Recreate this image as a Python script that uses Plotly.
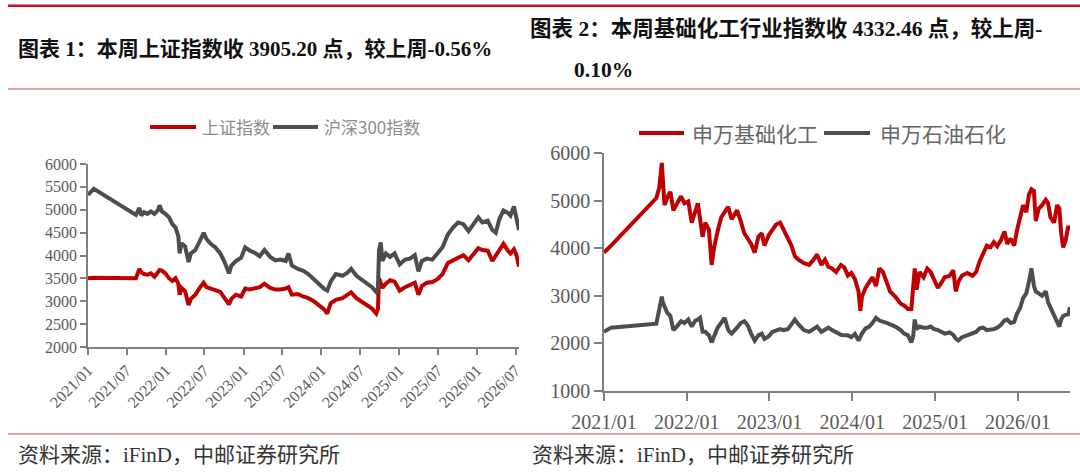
import plotly.graph_objects as go

# ---------------- Left chart data (上证指数 / 沪深300指数) ----------------
L_DATES = [
    "2021-01-01", "2021-01-28", "2021-08-14", "2021-08-22", "2021-08-30", "2021-09-08", "2021-09-21", "2021-10-07", "2021-10-23", "2021-11-09",
    "2021-11-25", "2021-12-03", "2021-12-14", "2021-12-30", "2022-01-16", "2022-02-01", "2022-02-16", "2022-03-01", "2022-03-07", "2022-03-16",
    "2022-04-02", "2022-04-18", "2022-04-29", "2022-05-20", "2022-06-09", "2022-06-28", "2022-07-11", "2022-07-31", "2022-08-21", "2022-09-14",
    "2022-10-04", "2022-10-25", "2022-11-05", "2022-11-26", "2022-12-21", "2023-01-09", "2023-01-31", "2023-02-22", "2023-03-18", "2023-04-09",
    "2023-05-06", "2023-05-31", "2023-06-24", "2023-07-18", "2023-07-31", "2023-08-16", "2023-09-13", "2023-10-07", "2023-11-01", "2023-11-25",
    "2023-12-19", "2024-01-13", "2024-01-29", "2024-02-14", "2024-03-09", "2024-04-10", "2024-05-04", "2024-05-20", "2024-06-14", "2024-07-08",
    "2024-08-02", "2024-08-26", "2024-09-15", "2024-09-23", "2024-09-28", "2024-10-06", "2024-10-14", "2024-10-30", "2024-11-19", "2024-12-10",
    "2025-01-03", "2025-01-28", "2025-02-20", "2025-03-15", "2025-04-01", "2025-04-17", "2025-05-11", "2025-06-05", "2025-06-29", "2025-07-23",
    "2025-08-17", "2025-09-10", "2025-10-04", "2025-10-29", "2025-11-22", "2025-12-16", "2026-01-07", "2026-01-26", "2026-02-20", "2026-03-14",
    "2026-03-30", "2026-04-16", "2026-05-05", "2026-05-26", "2026-06-07", "2026-06-23", "2026-07-05", "2026-07-17",
]
SH_INDEX = [
    3504, 3511, 3504, 3594, 3707, 3632, 3594, 3579, 3609, 3534,
    3632, 3684, 3669, 3609, 3504, 3444, 3504, 3383, 3143, 3293,
    3218, 2917, 3053, 3143, 3293, 3406, 3308, 3278, 3256, 3203,
    3068, 2932, 3053, 3143, 3105, 3278, 3256, 3278, 3308, 3383,
    3293, 3256, 3256, 3278, 3308, 3143, 3158, 3105, 3068, 3008,
    2932, 2827, 2729, 2955, 3030, 3068, 3143, 3195, 3068, 2992,
    2917, 2842, 2729, 2827, 3504, 3353, 3293, 3383, 3459, 3429,
    3233, 3308, 3353, 3406, 3143, 3331, 3406, 3421, 3481, 3594,
    3835, 3895, 3932, 4008, 3895, 4045, 4158, 4120, 4105, 3880,
    4008, 4120, 4256, 4105, 4045, 4135, 4008, 3759,
]
HS300_INDEX = [
    5323, 5459, 4887, 4985, 5038, 4872, 4947, 4910, 4962, 4910,
    4985, 5098, 4962, 4910, 4835, 4684, 4609, 4421, 4045, 4271,
    4195, 3857, 4045, 4120, 4308, 4496, 4361, 4256, 4180, 4045,
    3857, 3609, 3782, 3880, 3955, 4180, 4105, 4060, 3985, 4120,
    3970, 3895, 3910, 3880, 4045, 3782, 3707, 3669, 3594, 3481,
    3368, 3278, 3233, 3429, 3594, 3556, 3632, 3707, 3556, 3481,
    3406, 3308, 3203, 3293, 4120, 4286, 3880, 4045, 3970, 4045,
    3805, 3910, 3932, 4008, 3654, 3880, 3932, 3910, 4045, 4180,
    4459, 4609, 4722, 4684, 4534, 4684, 4835, 4722, 4759, 4556,
    4496, 4797, 4985, 4932, 4872, 5075, 4857, 4556,
]
L_TICKVALS = ["2021-01-01", "2021-07-01", "2022-01-01", "2022-07-01", "2023-01-01", "2023-07-01",
              "2024-01-01", "2024-07-01", "2025-01-01", "2025-07-01", "2026-01-01", "2026-07-01"]
L_TICKTEXT = ["2021/01", "2021/07", "2022/01", "2022/07", "2023/01", "2023/07",
              "2024/01", "2024/07", "2025/01", "2025/07", "2026/01", "2026/07"]

# ---------------- Right chart data (申万基础化工 / 申万石油石化) ----------------
R_DATES = [
    "2021-01-01", "2021-02-01", "2021-08-20", "2021-09-02", "2021-09-13", "2021-09-17", "2021-09-25", "2021-10-06", "2021-10-21", "2021-11-03",
    "2021-11-18", "2021-12-07", "2021-12-22", "2022-01-08", "2022-01-23", "2022-02-08", "2022-02-19", "2022-03-01", "2022-03-12", "2022-03-24",
    "2022-04-09", "2022-04-21", "2022-05-02", "2022-05-17", "2022-06-02", "2022-06-17", "2022-07-03", "2022-07-18", "2022-08-11", "2022-08-27",
    "2022-09-12", "2022-09-27", "2022-10-12", "2022-10-28", "2022-11-13", "2022-11-28", "2022-12-10", "2022-12-29", "2023-01-14", "2023-01-30",
    "2023-02-17", "2023-03-03", "2023-03-23", "2023-04-08", "2023-04-23", "2023-05-09", "2023-06-02", "2023-06-25", "2023-07-15", "2023-07-30",
    "2023-08-18", "2023-09-03", "2023-09-18", "2023-10-04", "2023-10-22", "2023-11-12", "2023-11-27", "2023-12-13", "2023-12-28", "2024-01-13",
    "2024-01-29", "2024-02-06", "2024-02-13", "2024-02-29", "2024-03-15", "2024-03-30", "2024-04-15", "2024-04-30", "2024-05-16", "2024-06-01",
    "2024-06-16", "2024-07-09", "2024-08-02", "2024-08-17", "2024-09-03", "2024-09-18", "2024-09-26", "2024-10-03", "2024-10-11", "2024-10-24",
    "2024-11-11", "2024-11-27", "2024-12-12", "2024-12-28", "2025-01-13", "2025-01-28", "2025-02-12", "2025-03-06", "2025-03-22", "2025-04-02",
    "2025-04-14", "2025-04-30", "2025-05-23", "2025-06-15", "2025-07-01", "2025-07-16", "2025-08-01", "2025-08-17", "2025-09-02", "2025-09-17",
    "2025-10-02", "2025-10-18", "2025-11-03", "2025-11-15", "2025-11-30", "2025-12-16", "2025-12-27", "2026-01-12", "2026-01-24", "2026-02-07",
    "2026-02-19", "2026-03-02", "2026-03-13", "2026-03-21", "2026-04-03", "2026-04-18", "2026-05-04", "2026-05-14", "2026-05-25", "2026-06-10",
    "2026-06-23", "2026-07-03", "2026-07-11", "2026-07-20", "2026-07-31", "2026-08-11", "2026-08-19",
]
SW_CHEM = [
    3907, 4055, 5053, 5275, 5793, 5349, 4905, 5053, 5186, 4794,
    4942, 5090, 4942, 4980, 4536, 4757, 4942, 4610, 4240, 4536,
    4388, 3648, 4018, 4351, 4646, 4757, 4868, 4610, 4794, 4573,
    4314, 4203, 4092, 3907, 4240, 4314, 4055, 4277, 4388, 4498,
    4536, 4388, 4203, 4055, 3833, 3759, 3685, 3648, 3759, 3870,
    3648, 3759, 3611, 3574, 3500, 3648, 3600, 3426, 3480, 3352,
    3093, 2686, 2982, 3167, 3278, 3389, 3204, 3574, 3500, 3278,
    3093, 2982, 2834, 2797, 2723, 2723, 3352, 3574, 3130, 3500,
    3389, 3574, 3500, 3352, 3167, 3270, 3389, 3420, 3537, 3093,
    3300, 3426, 3480, 3420, 3500, 3722, 3870, 4055, 4020, 4129,
    4040, 4166, 4351, 4092, 4203, 4055, 4351, 4683, 4905, 4757,
    5127, 5238, 5200, 4573, 4831, 4905, 5016, 4950, 4646, 4536,
    4905, 4831, 4314, 4018, 4166, 4462, 4388,
]
SW_PETRO = [
    2243, 2331, 2413, 2686, 2982, 2870, 2760, 2649, 2575, 2280,
    2354, 2464, 2428, 2501, 2354, 2480, 2501, 2538, 2243, 2243,
    2170, 2021, 2150, 2330, 2430, 2538, 2280, 2206, 2330, 2428,
    2464, 2380, 2206, 2058, 2169, 2206, 2095, 2150, 2243, 2280,
    2300, 2280, 2300, 2400, 2501, 2400, 2280, 2243, 2300, 2354,
    2243, 2300, 2330, 2280, 2230, 2180, 2169, 2169, 2132, 2200,
    2058, 2150, 2206, 2317, 2350, 2428, 2538, 2480, 2464, 2430,
    2400, 2354, 2280, 2206, 2170, 2021, 2150, 2501, 2300, 2354,
    2330, 2330, 2354, 2300, 2280, 2240, 2206, 2230, 2180, 2100,
    2060, 2132, 2170, 2206, 2240, 2317, 2330, 2280, 2280, 2300,
    2330, 2391, 2480, 2501, 2428, 2450, 2612, 2760, 2950, 3050,
    3300, 3574, 3204, 3093, 3050, 3000, 3093, 2871, 2750, 2600,
    2450, 2354, 2501, 2575, 2600, 2612, 2760,
]
R_TICKVALS = ["2021-01-01", "2022-01-01", "2023-01-01", "2024-01-01", "2025-01-01", "2026-01-01"]
R_TICKTEXT = ["2021/01", "2022/01", "2023/01", "2024/01", "2025/01", "2026/01"]

L_NAMES = ["上证指数", "沪深300指数"]
R_NAMES = ["申万基础化工", "申万石油石化"]
TITLE_1 = "图表 1：本周上证指数收 3905.20 点，较上周-0.56%"
TITLE_2A = "图表 2：本周基础化工行业指数收 4332.46 点，较上周-"
TITLE_2B = "0.10%"
SOURCE = "资料来源：iFinD，中邮证券研究所"

# ---------------- styling ----------------
W, H = 1080, 473
RED = "#C00000"
GRAY = "#4D4D4D"
AXIS = "#7F7F7F"
TICK = "#595959"
SERIF = "Liberation Serif, Noto Sans CJK SC"
CJK = "Noto Sans CJK SC"
LW = 4


def px(xp):
    return xp / W


def py(yp):
    return 1 - yp / H


fig = go.Figure()
fig.add_trace(go.Scatter(x=L_DATES, y=SH_INDEX, name=L_NAMES[0], mode="lines",
                         line=dict(color=RED, width=LW), xaxis="x", yaxis="y", showlegend=False))
fig.add_trace(go.Scatter(x=L_DATES, y=HS300_INDEX, name=L_NAMES[1], mode="lines",
                         line=dict(color=GRAY, width=LW), xaxis="x", yaxis="y", showlegend=False))
fig.add_trace(go.Scatter(x=R_DATES, y=SW_CHEM, name=R_NAMES[0], mode="lines",
                         line=dict(color=RED, width=LW), xaxis="x2", yaxis="y2", showlegend=False))
fig.add_trace(go.Scatter(x=R_DATES, y=SW_PETRO, name=R_NAMES[1], mode="lines",
                         line=dict(color=GRAY, width=LW), xaxis="x2", yaxis="y2", showlegend=False))

common_axis = dict(showline=True, linecolor=AXIS, linewidth=1.5, ticks="outside",
                   tickcolor=AXIS, tickwidth=1.5, showgrid=False, zeroline=False,
                   automargin=False)

fig.update_layout(
    width=W, height=H,
    autosize=False,
    margin=dict(l=0, r=0, t=0, b=0, pad=0, autoexpand=False),
    paper_bgcolor="white", plot_bgcolor="white",
    showlegend=False,
    xaxis=dict(domain=[px(88), px(519)], range=["2021-01-01", "2026-07-17"], type="date",
               tickvals=L_TICKVALS, ticktext=L_TICKTEXT, tickangle=-45, ticklen=6,
               tickfont=dict(family=SERIF, size=16, color=TICK), anchor="y", **common_axis),
    yaxis=dict(domain=[py(347), py(164)], range=[2000, 6000], dtick=500, ticklen=6,
               tickfont=dict(family=SERIF, size=16, color=TICK), anchor="x", **common_axis),
    xaxis2=dict(domain=[px(604), px(1070)], range=["2021-01-01", "2026-08-19"], type="date",
                tickvals=R_TICKVALS, ticktext=R_TICKTEXT, tickangle=0, ticklen=8,
                ticklabelstandoff=4,
                tickfont=dict(family=SERIF, size=20, color=TICK), anchor="y2", **common_axis),
    yaxis2=dict(domain=[py(391), py(153)], range=[1000, 6000], dtick=1000, ticklen=8,
                tickfont=dict(family=SERIF, size=20, color=TICK), anchor="x2", **common_axis),
)

shapes = [
    dict(type="line", xref="paper", yref="paper", x0=px(8), x1=1, y0=py(5.7), y1=py(5.7),
         line=dict(color="#C8102E", width=2.5)),
    dict(type="line", xref="paper", yref="paper", x0=px(8), x1=1, y0=py(89), y1=py(89),
         line=dict(color="#E08A8A", width=1.5)),
    dict(type="line", xref="paper", yref="paper", x0=px(8), x1=1, y0=py(434), y1=py(434),
         line=dict(color="#E08A8A", width=1.5)),
    # legend keys
    dict(type="line", xref="paper", yref="paper", x0=px(150), x1=px(196), y0=py(127), y1=py(127),
         line=dict(color=RED, width=4)),
    dict(type="line", xref="paper", yref="paper", x0=px(273), x1=px(318), y0=py(127), y1=py(127),
         line=dict(color=GRAY, width=4)),
    dict(type="line", xref="paper", yref="paper", x0=px(639), x1=px(684), y0=py(133), y1=py(133),
         line=dict(color=RED, width=4)),
    dict(type="line", xref="paper", yref="paper", x0=px(824), x1=px(870), y0=py(133), y1=py(133),
         line=dict(color=GRAY, width=4)),
]

ann = [
    dict(text="<b>" + TITLE_1 + "</b>", x=px(16), y=py(49), font=dict(family=SERIF, size=21, color="#111")),
    dict(text="<b>" + TITLE_2A + "</b>", x=px(528), y=py(29), font=dict(family=SERIF, size=21.5, color="#111")),
    dict(text="<b>" + TITLE_2B + "</b>", x=px(572), y=py(70), font=dict(family=SERIF, size=21.5, color="#111")),
    dict(text=L_NAMES[0], x=px(200), y=py(127), font=dict(family=CJK, size=17, color="#8C8C8C")),
    dict(text=L_NAMES[1], x=px(322), y=py(127), font=dict(family=CJK, size=17, color="#8C8C8C")),
    dict(text=R_NAMES[0], x=px(690), y=py(133), font=dict(family=CJK, size=21, color="#666666")),
    dict(text=R_NAMES[1], x=px(878), y=py(133), font=dict(family=CJK, size=21, color="#666666")),
    dict(text=SOURCE, x=px(16), y=py(455), font=dict(family=SERIF, size=21, color="#333333")),
    dict(text=SOURCE, x=px(530), y=py(455), font=dict(family=SERIF, size=21, color="#333333")),
]
for a in ann:
    a.update(xref="paper", yref="paper", xanchor="left", yanchor="middle", showarrow=False)

fig.update_layout(shapes=shapes, annotations=ann)

fig.write_html("out.html", config={"displayModeBar": False},
               post_script="document.body.style.margin='0';document.body.style.overflow='hidden';")
